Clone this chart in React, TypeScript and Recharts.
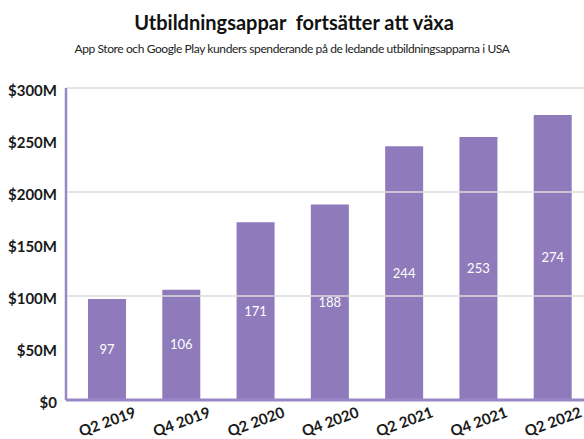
import { BarChart, Bar, XAxis, YAxis, LabelList, ReferenceLine } from 'recharts'

const quarters = ['Q2 2019', 'Q4 2019', 'Q2 2020', 'Q4 2020', 'Q2 2021', 'Q4 2021', 'Q2 2022']
const spending = [97, 106, 171, 188, 244, 253, 274]
const yTicks = [0, 50, 100, 150, 200, 250, 300]
const gridValues = [100, 200, 300]

const data = quarters.map((q, i) => ({ quarter: q, value: spending[i] }))

const PURPLE = '#8f7bbb'
const AXIS_PURPLE = '#9a87c8'

// roterade kvartalsetiketter, centrerade under stapeln
function QuarterTick(props: any) {
  const { x, y, payload } = props
  const cy = y + 13
  return (
    <text
      x={x}
      y={cy}
      textAnchor="middle"
      dominantBaseline="central"
      transform={`rotate(-20, ${x}, ${cy})`}
      fontFamily="Lato"
      fontWeight={700}
      fontSize={15}
      fill="#1a1a1a"
    >
      {payload.value}
    </text>
  )
}

export default function App() {
  return (
    <div
      style={{
        position: 'absolute',
        left: 0,
        top: 0,
        width: 584,
        height: 439,
        overflow: 'hidden',
        background: '#fff',
      }}
    >
      <div
        style={{
          position: 'absolute',
          top: 10,
          width: 584,
          textAlign: 'center',
          fontFamily: 'Lato',
          fontWeight: 700,
          fontSize: 20,
          color: '#111',
          whiteSpace: 'pre',
          paddingLeft: 2,
        }}
      >
        {'Utbildningsappar  fortsätter att växa'}
      </div>
      <div
        style={{
          position: 'absolute',
          top: 41,
          width: 584,
          textAlign: 'center',
          fontFamily: 'Lato',
          fontSize: 12,
          letterSpacing: -0.4,
          color: '#222',
        }}
      >
        App Store och Google Play kunders spenderande på de ledande utbildningsapparna i USA
      </div>
      <BarChart
        width={590}
        height={439}
        data={data}
        margin={{ top: 88, right: 0, bottom: 0, left: 0 }}
      >
        {gridValues.map((v) => (
          <ReferenceLine key={v} y={v} stroke="#dcdcdc" strokeWidth={1.5} />
        ))}
        <XAxis
          dataKey="quarter"
          height={39}
          tickLine={false}
          axisLine={{ stroke: AXIS_PURPLE, strokeWidth: 3 }}
          tick={<QuarterTick />}
          interval={0}
          padding={{ left: 4, right: 0 }}
        />
        <YAxis
          width={66}
          domain={[0, 300]}
          ticks={yTicks}
          tickLine={false}
          axisLine={{ stroke: AXIS_PURPLE, strokeWidth: 2.5 }}
          tickMargin={3}
          dy={3}
          tickFormatter={(v: number) => (v === 0 ? '$0' : `$${v}M`)}
          tick={{ fontFamily: 'Lato', fontWeight: 700, fontSize: 15, fill: '#1a1a1a' }}
        />
        <Bar dataKey="value" fill={PURPLE} barSize={38} isAnimationActive={false}>
          <LabelList
            dataKey="value"
            position="center"
            fill="#ffffff"
            fontFamily="Lato"
            fontSize={13}
          />
        </Bar>
      </BarChart>
    </div>
  )
}
